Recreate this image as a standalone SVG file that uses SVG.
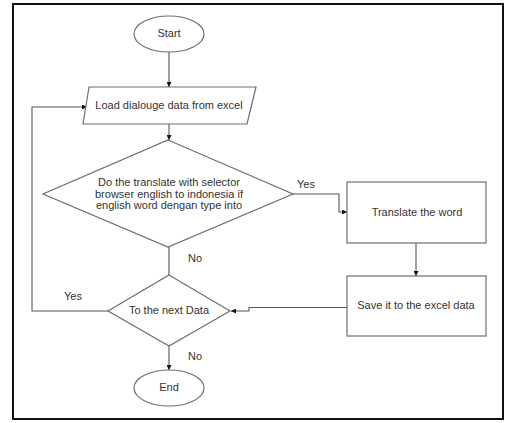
<svg xmlns="http://www.w3.org/2000/svg" width="505" height="423" viewBox="0 0 505 423">
<defs>
<marker id="arr" viewBox="0 0 10 10" refX="10" refY="5" markerWidth="5" markerHeight="5" orient="auto" markerUnits="userSpaceOnUse">
<path d="M0,0 L10,5 L0,10 z" fill="#111"/>
</marker>
<style>
.shape{fill:#fff;stroke:#6e6e6e;stroke-width:1.2}
.edge{fill:none;stroke:#555;stroke-width:1.1;marker-end:url(#arr)}
.edge2{fill:none;stroke:#555;stroke-width:1.1}
text{font-family:"Liberation Sans",Arial,sans-serif;font-size:11px;fill:#333;text-anchor:middle;dominant-baseline:middle}
</style>
</defs>
<rect x="0" y="0" width="505" height="423" fill="#fff"/>
<rect x="13" y="4" width="490" height="415" fill="none" stroke="#111" stroke-width="2"/>
<g id="connectors">
<path class="edge" d="M169,52 L169,87"/>
<path class="edge" d="M169,124 L169,140"/>
<path class="edge" d="M293,194 L339,194 L339,212 L347,212"/>
<path class="edge" d="M416,243 L416,276"/>
<path class="edge" d="M347,307.5 L249,307.5 L249,311 L231,311"/>
<path class="edge2" d="M169,247 L169,275"/>
<path class="edge" d="M108,311 L32,311 L32,107 L87,107"/>
<path class="edge" d="M169,346 L169,370"/>
<text x="306" y="185">Yes</text>
<text x="195" y="259">No</text>
<text x="73" y="297">Yes</text>
<text x="195" y="357">No</text>
</g>
<g id="start">
<ellipse class="shape" cx="169" cy="34" rx="35" ry="18"/>
<text x="169" y="34">Start</text>
</g>
<g id="load">
<polygon class="shape" points="89,87 256,87 247,124 83,124"/>
<text x="169" y="106">Load dialouge data from excel</text>
</g>
<g id="decision1">
<polygon class="shape" points="168,140 293,194 168,247 43,194"/>
<text x="169" y="183">Do the translate with selector</text>
<text x="169" y="195">browser english to indonesia if</text>
<text x="169" y="206">english word dengan type into</text>
</g>
<g id="translate">
<rect class="shape" x="347" y="182" width="139" height="61"/>
<text x="417" y="213">Translate the word</text>
</g>
<g id="save">
<rect class="shape" x="347" y="276" width="139" height="60"/>
<text x="416" y="306">Save it to the excel data</text>
</g>
<g id="decision2">
<polygon class="shape" points="169,275 230,311 169,346 108,311"/>
<text x="169" y="311">To the next Data</text>
</g>
<g id="end">
<ellipse class="shape" cx="169" cy="388" rx="35" ry="18"/>
<text x="169" y="388">End</text>
</g>
</svg>
